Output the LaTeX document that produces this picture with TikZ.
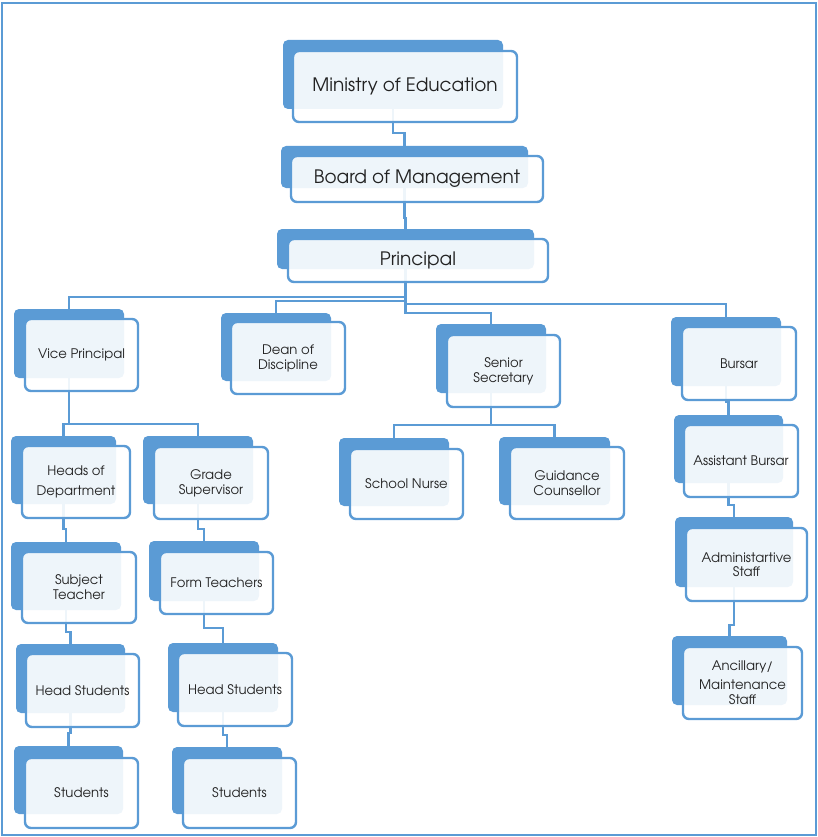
\documentclass[tikz,border=0pt]{standalone}
\usepackage{fontspec}
\setmainfont{TeX Gyre Adventor}
\usetikzlibrary{backgrounds}
\definecolor{acc}{HTML}{5B9BD5}
\definecolor{txt}{HTML}{222222}
\newcommand\elb[3]{\draw[conn] (#1.south) -- (#1.south |- 0,#3) -| (#2.north);}
\newcommand\bk[5]{\node[backbox, minimum width={(#4-#2)*1pt}, minimum height={(#5-#3)*1pt}] (#1) at ({(#2+#4)/2},{(#3+#5)/2}) {};}
\newcommand\fr[7][]{\node[frontbox, minimum width={(#5-#3)*1pt}, minimum height={(#6-#4)*1pt}, #1] (#2) at ({(#3+#5)/2},{(#4+#6)/2}) {#7};}
\begin{document}
\begin{tikzpicture}[x=1pt,y=-1pt,
  backbox/.style={fill=acc, draw=none, rounded corners=5pt, inner sep=0pt},
  frontbox/.style={draw=acc, line width=2.4pt, fill=white, fill opacity=0.9, text opacity=1,
    rounded corners=6pt, inner sep=0pt, text=txt, align=center,
    font=\fontsize{13.2}{15}\selectfont},
  bigtext/.style={font=\fontsize{18.5}{22}\selectfont},
  conn/.style={draw=acc, line width=2.4pt}]
\useasboundingbox (0,0) rectangle (818,837);
\draw[acc, line width=2.2pt] (2,3) rectangle (816,835);

% top chain
\bk{moeB}{283}{40}{503}{109}
\fr[bigtext]{moe}{293}{51}{517}{122}{Ministry of Education}
\bk{bomB}{281}{146}{528}{188}
\fr[bigtext]{bom}{291}{156}{543}{202}{Board of Management}
\bk{priB}{277}{229}{534}{269}
\fr[bigtext]{pri}{288}{239}{548}{282}{Principal}

% second level
\bk{vpB}{14}{309}{124}{378}
\fr{vp}{25}{319}{138}{391}{Vice Principal}
\bk{dodB}{221}{313}{331}{381}
\fr{dod}{231}{322}{345}{394}{Dean of\\Discipline}
\bk{ssB}{436}{324}{546}{393}
\fr{ss}{447}{335}{560}{407}{Senior\\Secretary}
\bk{burB}{671}{317}{781}{386}
\fr{bur}{682}{327}{796}{400}{Bursar}

% third level
\bk{hodB}{11}{436}{116}{504}
\fr[font=\fontsize{13.2}{20}\selectfont]{hod}{22}{446}{130}{518}{Heads of\\Department}
\bk{gsB}{143}{436}{253}{504}
\fr{gs}{154}{447}{268}{519}{Grade\\Supervisor}
\bk{snB}{339}{438}{449}{506}
\fr{sn}{350}{449}{463}{519}{School Nurse}
\bk{gcB}{499}{437}{610}{505}
\fr{gc}{510}{447}{624}{519}{Guidance\\Counsellor}
\bk{abB}{674}{415}{783}{483}
\fr{ab}{684}{425}{798}{497}{Assistant Bursar}

% fourth level
\bk{stB}{11}{542}{121}{610}
\fr{st}{22}{552}{136}{623}{Subject\\Teacher}
\bk{ftB}{149}{541}{259}{601}
\fr{ft}{160}{552}{273}{614}{Form Teachers}
\bk{asB}{675}{517}{793}{587}
\fr[font=\fontsize{13.2}{14}\selectfont]{as}{686}{528}{807}{601}{Administartive\\Staff}

% fifth level
\bk{hsaB}{16}{644}{125}{713}
\fr{hsa}{26}{654}{139}{727}{Head Students}
\bk{hsbB}{168}{643}{278}{712}
\fr{hsb}{178}{653}{292}{726}{Head Students}
\bk{anB}{672}{636}{787}{705}
\fr{an}{683}{647}{802}{719}{Ancillary/\\[4pt]Maintenance\\Staff}

% sixth level
\bk{saB}{14}{746}{123}{814}
\fr{sa}{25}{758}{138}{828}{Students}
\bk{sbB}{172}{747}{282}{814}
\fr{sb}{183}{758}{296}{828}{Students}

\begin{scope}[on background layer]
\elb{moeB}{bomB}{133}
\elb{bomB}{priB}{218}
\elb{priB}{vpB}{297}
\elb{priB}{dodB}{301}
\elb{priB}{burB}{304}
\elb{priB}{ssB}{313}
\elb{vpB}{hodB}{424}
\elb{vpB}{gsB}{424}
\elb{ssB}{snB}{425}
\elb{ssB}{gcB}{425}
\elb{burB}{abB}{402}
\elb{abB}{asB}{505}
\elb{asB}{anB}{625}
\elb{hodB}{stB}{529}
\elb{gsB}{ftB}{529}
\elb{stB}{hsaB}{632}
\elb{ftB}{hsbB}{628}
\elb{hsaB}{saB}{733}
\elb{hsbB}{sbB}{735}
\end{scope}
\end{tikzpicture}
\end{document}
